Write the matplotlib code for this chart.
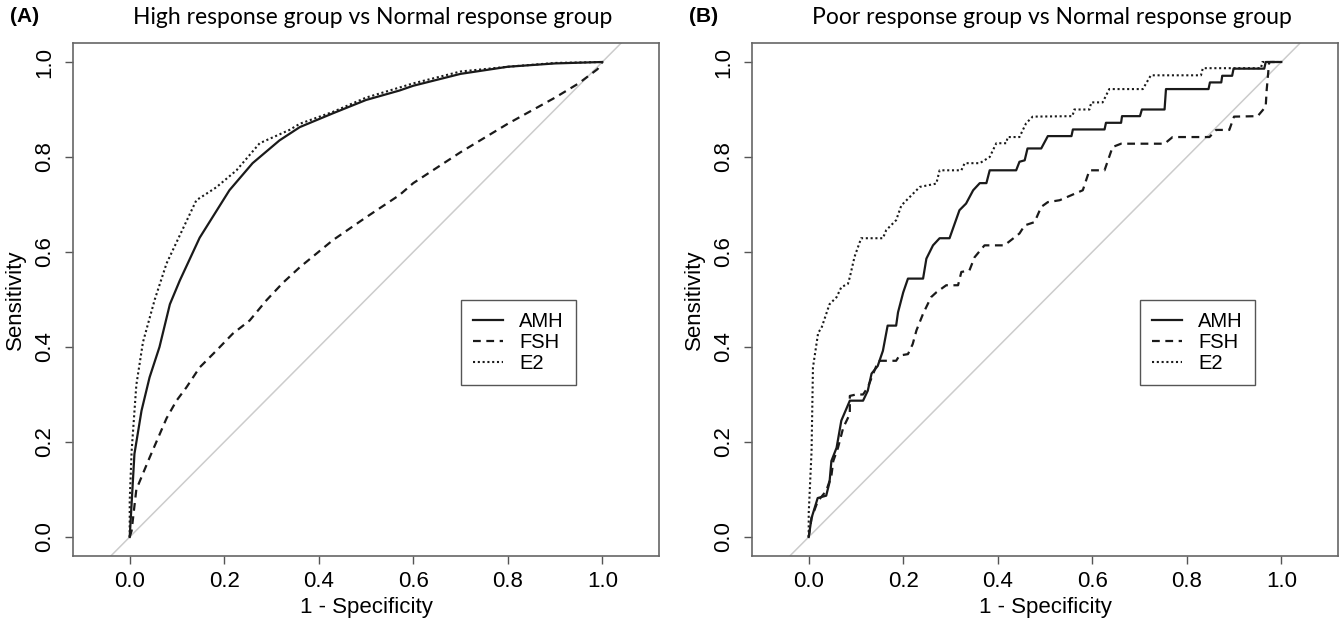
import numpy as np
import matplotlib.pyplot as plt

# ---- data: ROC points (x = 1 - specificity, y = sensitivity)
# (A) high response vs normal response
a_amh_x = [0.0, 0.004, 0.01, 0.025, 0.042, 0.063, 0.085, 0.106, 0.148, 0.211, 0.26, 0.317,
           0.36, 0.43, 0.50, 0.571, 0.6, 0.7, 0.8, 0.9, 1.0]
a_amh_y = [0.0, 0.07, 0.175, 0.266, 0.336, 0.40, 0.49, 0.54, 0.63, 0.73, 0.787, 0.835,
           0.863, 0.892, 0.92, 0.94, 0.95, 0.975, 0.99, 0.997, 1.0]

a_fsh_x = [0.0, 0.004, 0.014, 0.042, 0.078, 0.099, 0.12, 0.148, 0.183, 0.218, 0.254, 0.289,
           0.324, 0.36, 0.43, 0.50, 0.571, 0.6, 0.7, 0.8, 0.9, 0.95, 0.99, 1.0]
a_fsh_y = [0.0, 0.013, 0.10, 0.167, 0.25, 0.287, 0.315, 0.357, 0.392, 0.428, 0.456, 0.498,
           0.535, 0.568, 0.625, 0.673, 0.72, 0.745, 0.81, 0.87, 0.925, 0.955, 0.985, 1.0]

a_e2_x = [0.0, 0.0, 0.004, 0.014, 0.028, 0.053, 0.078, 0.141, 0.183, 0.226, 0.275, 0.338,
          0.36, 0.43, 0.50, 0.6, 0.7, 0.8, 0.9, 1.0]
a_e2_y = [0.0, 0.076, 0.18, 0.32, 0.41, 0.50, 0.576, 0.709, 0.736, 0.772, 0.829, 0.857,
          0.87, 0.895, 0.925, 0.955, 0.98, 0.99, 0.998, 1.0]

# (B) poor response vs normal response
b_amh_x = [0.0, 0.006, 0.019, 0.037, 0.044, 0.048, 0.059, 0.069, 0.087, 0.115, 0.125, 0.133,
           0.146, 0.157, 0.167, 0.185, 0.189, 0.2, 0.21, 0.242, 0.249, 0.263, 0.277, 0.298,
           0.309, 0.319, 0.333, 0.348, 0.362, 0.376, 0.383, 0.439, 0.446, 0.457, 0.463,
           0.492, 0.506, 0.556, 0.559, 0.626, 0.629, 0.661, 0.663, 0.701, 0.705, 0.753,
           0.756, 0.846, 0.849, 0.873, 0.875, 0.896, 0.899, 0.964, 0.967, 1.0]
b_amh_y = [0.0, 0.04, 0.082, 0.087, 0.115, 0.16, 0.188, 0.245, 0.287, 0.287, 0.308, 0.344,
           0.36, 0.392, 0.445, 0.445, 0.473, 0.515, 0.544, 0.544, 0.586, 0.614, 0.629, 0.629,
           0.66, 0.688, 0.702, 0.73, 0.745, 0.745, 0.772, 0.772, 0.79, 0.793, 0.818,
           0.818, 0.844, 0.844, 0.858, 0.858, 0.872, 0.872, 0.886, 0.886, 0.90, 0.90,
           0.943, 0.943, 0.957, 0.957, 0.971, 0.971, 0.986, 0.986, 1.0, 1.0]

b_fsh_x = [0.0, 0.006, 0.019, 0.037, 0.048, 0.052, 0.062, 0.073, 0.087, 0.087, 0.1, 0.115,
           0.125, 0.143, 0.15, 0.185, 0.192, 0.21, 0.22, 0.228, 0.242, 0.259, 0.27, 0.291,
           0.316, 0.323, 0.34, 0.351, 0.372, 0.414, 0.432, 0.446, 0.457, 0.478, 0.492,
           0.506, 0.531, 0.58, 0.594, 0.626, 0.643, 0.661, 0.753, 0.77, 0.848, 0.862,
           0.89, 0.9, 0.95, 0.967, 0.969, 0.974, 0.976, 1.0]
b_fsh_y = [0.0, 0.04, 0.075, 0.097, 0.129, 0.16, 0.188, 0.23, 0.259, 0.297, 0.30, 0.30,
           0.315, 0.36, 0.371, 0.371, 0.382, 0.385, 0.406, 0.435, 0.47, 0.505, 0.515, 0.53,
           0.53, 0.558, 0.561, 0.589, 0.614, 0.614, 0.628, 0.639, 0.656, 0.663, 0.695,
           0.705, 0.709, 0.73, 0.772, 0.772, 0.821, 0.828, 0.828, 0.842, 0.842, 0.857,
           0.857, 0.885, 0.886, 0.906, 0.94, 0.997, 1.0, 1.0]

b_e2_x = [0.0, 0.0, 0.006, 0.009, 0.02, 0.027, 0.044, 0.059, 0.069, 0.083, 0.087, 0.097,
          0.111, 0.157, 0.164, 0.185, 0.196, 0.214, 0.235, 0.27, 0.277, 0.323, 0.33,
          0.362, 0.383, 0.397, 0.418, 0.421, 0.446, 0.46, 0.474, 0.558, 0.562, 0.594,
          0.598, 0.622, 0.636, 0.707, 0.724, 0.83, 0.834, 0.957, 0.96, 1.0]
b_e2_y = [0.0, 0.05, 0.18, 0.357, 0.43, 0.44, 0.49, 0.505, 0.526, 0.533, 0.547, 0.59,
          0.629, 0.629, 0.646, 0.667, 0.698, 0.716, 0.737, 0.744, 0.772, 0.772, 0.787,
          0.787, 0.80, 0.829, 0.829, 0.842, 0.842, 0.871, 0.885, 0.886, 0.90, 0.90,
          0.915, 0.915, 0.943, 0.943, 0.972, 0.972, 0.987, 0.987, 1.0, 1.0]

series_names = ['AMH', 'FSH', 'E2']
titles = ['High response group vs Normal response group',
          'Poor response group vs Normal response group']
panel_tags = ['(A)', '(B)']
ticks = [0.0, 0.2, 0.4, 0.6, 0.8, 1.0]

panels = [
    [(a_amh_x, a_amh_y), (a_fsh_x, a_fsh_y), (a_e2_x, a_e2_y)],
    [(b_amh_x, b_amh_y), (b_fsh_x, b_fsh_y), (b_e2_x, b_e2_y)],
]

styles = [dict(linestyle='-', linewidth=1.6),
          dict(linestyle=(0, (3.5, 2.5)), linewidth=1.6),
          dict(linestyle=(0, (1, 1.3)), linewidth=1.5)]

plt.rcParams['font.family'] = ['Liberation Sans', 'DejaVu Sans']
fig = plt.figure(figsize=(13.41, 6.23), dpi=100)

lefts = [73 / 1341, 752 / 1341]
for i, (curves, left) in enumerate(zip(panels, lefts)):
    ax = fig.add_axes([left, 1 - 556 / 623, 586 / 1341, 513 / 623])
    ax.axline((0, 0), (1, 1), color='#cccccc', linewidth=1.1, zorder=1)
    for (x, y), name, st in zip(curves, series_names, styles):
        ax.plot(x, y, color='#1a1a1a', label=name, zorder=3, **st)

    ax.set_xlim(-0.12, 1.12)
    ax.set_ylim(-0.04, 1.04)
    ax.set_xticks(ticks)
    ax.set_yticks(ticks)
    ax.set_xticklabels([f'{t:.1f}' for t in ticks])
    ax.set_yticklabels([f'{t:.1f}' for t in ticks], rotation=90, va='center')
    ax.tick_params(axis='both', direction='out', length=6, width=1,
                   color='#555555', labelsize=16)
    ax.tick_params(axis='x', pad=5)
    ax.tick_params(axis='y', pad=7)
    for s in ax.spines.values():
        s.set_color('#666666')
        s.set_linewidth(1.2)

    ax.set_xlabel('1 - Specificity', fontsize=16)
    ax.set_ylabel('Sensitivity', fontsize=16)
    ax.xaxis.set_label_coords(0.5, -0.08)
    ax.yaxis.set_label_coords(-0.08, 0.5)

    leg = ax.legend(loc='upper left', bbox_to_anchor=(0.70, 0.50),
                    bbox_transform=ax.transData, fontsize=14.5, fancybox=False,
                    framealpha=1, edgecolor='#555555', handlelength=1.5,
                    borderpad=0.6, labelspacing=0.1, handletextpad=0.8,
                    borderaxespad=0)
    leg.get_frame().set_linewidth(1.0)

    fig.text(left + 0.512 * 586 / 1341, 1 - 17 / 623, titles[i], family='Lato',
             fontsize=16.5, ha='center', va='center')
    fig.text(left - 63 / 1341, 1 - 17 / 623, panel_tags[i], fontsize=15,
             fontweight='bold', ha='left', va='center')

fig.savefig('out.png', dpi=100)
